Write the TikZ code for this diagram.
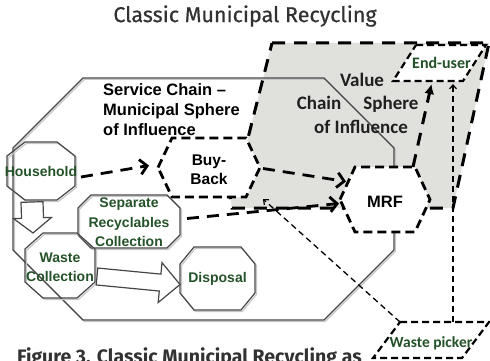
\documentclass[tikz,border=0pt]{standalone}
\usepackage{fontspec}
\usetikzlibrary{calc,arrows.meta}
\newfontfamily\arialf{Liberation Sans}
\newfontfamily\calf{Carlito}
\newfontfamily\dinf{Fira Sans}
\newfontfamily\dinm[FakeBold=0.6]{Fira Sans}
\definecolor{dgreen}{RGB}{36,82,40}
\definecolor{sphgray}{RGB}{224,224,221}
\definecolor{ink}{RGB}{50,50,50}
\definecolor{lineg}{RGB}{70,70,70}
\newcommand{\octo}[4][]{%
  \draw[#1] ($(#2.north west)+(#3,0)$) -- ($(#2.north east)+(-#3,0)$) -- ($(#2.north east)+(0,#4)$) -- ($(#2.south east)+(0,-#4)$) -- ($(#2.south east)+(-#3,0)$) -- ($(#2.south west)+(#3,0)$) -- ($(#2.south west)+(0,-#4)$) -- ($(#2.north west)+(0,#4)$) -- cycle;}
\newcommand{\hexa}[3][]{%
  \draw[#1] (#2.west) -- ($(#2.north west)+(#3,0)$) -- ($(#2.north east)+(-#3,0)$) -- (#2.east) -- ($(#2.south east)+(-#3,0)$) -- ($(#2.south west)+(#3,0)$) -- cycle;}
\newcommand{\paral}[3][]{%
  \draw[#1] ($(#2.north west)+(#3,0)$) -- (#2.north east) -- ($(#2.south east)+(-#3,0)$) -- (#2.south west) -- cycle;}
\newcommand{\blockarr}[5]{%
  \coordinate (ba-c) at ($(#2)!#5!(#1)$);
  \draw[blockst] ($(#1)!#3!90:(#2)$) -- ($(ba-c)!#3!90:(#2)$) -- ($(ba-c)!#4!90:(#2)$) -- (#2) -- ($(ba-c)!#4!-90:(#2)$) -- ($(ba-c)!#3!-90:(#2)$) -- ($(#1)!#3!-90:(#2)$) -- cycle;}
\tikzset{
  region/.style 2 args={minimum width=#1, minimum height=#2, inner sep=0pt, outer sep=0pt},
  svcline/.style={draw=lineg, line width=1.3pt},
  shadowline/.style={draw=gray!45, line width=1.2pt, transform canvas={xshift=1.4pt, yshift=-1.4pt}},
  octline/.style={draw=lineg, line width=1.2pt},
  blockst/.style={draw=lineg, line width=1.2pt, fill=white, line join=miter},
  sphdash/.style={draw=black, line width=3pt, dash pattern=on 13pt off 9pt},
  hexdash/.style={draw=black, line width=2.8pt, dash pattern=on 9pt off 5pt, fill=white},
  arrdash/.style={draw=black, line width=2.8pt, dash pattern=on 12pt off 8pt},
  smalldash/.style={draw=black, line width=2.2pt, dash pattern=on 7pt off 4pt, fill=white},
  thindash/.style={draw=black, line width=1.3pt, dash pattern=on 6pt off 4pt},
  chev/.style={-{Straight Barb[length=7pt,width=15pt,line width=2.8pt]}},
  gtext/.style={text=dgreen, font=\arialf\bfseries\fontsize{14}{19.5}\selectfont, align=center, inner sep=0pt},
  btext/.style={text=black, font=\arialf\bfseries\fontsize{15.5}{19}\selectfont, align=center, inner sep=0pt},
  ctext/.style={text=black!88, font=\calf\bfseries\fontsize{19}{22}\selectfont, inner sep=0pt},
  cgtext/.style={text=dgreen, font=\calf\bfseries\fontsize{16}{19}\selectfont, inner sep=0pt}
}
\begin{document}
\begin{tikzpicture}[x=1pt,y=-1pt]
\useasboundingbox (0,0) rectangle (490,361);
% regions
\node[region={381pt}{242pt}] (svc) at (203.5,199) {};
\node[region={68pt}{58pt}] (hh) at (41,171) {};
\node[region={102pt}{53pt}] (sr) at (129,221.5) {};
\node[region={70pt}{65pt}] (wc) at (60,265.5) {};
\node[region={75pt}{63pt}] (dp) at (217.5,278.5) {};
\node[region={102pt}{59pt}] (bb) at (209,167.5) {};
\node[region={90pt}{65pt}] (mrf) at (385,199.5) {};
\node[region={93pt}{36pt}] (eu) at (439.5,63) {};
\node[region={116pt}{36pt}] (wp) at (431,340) {};
% value chain sphere
\coordinate (s1) at (272,43);
\coordinate (s2) at (489,43);
\coordinate (s3) at (453,208);
\coordinate (s4) at (232,208);
\coordinate (s5) at (230,197);
\coordinate (s6) at (248,138);
\fill[sphgray] (s1) -- (s2) -- (s3) -- (s4) -- (s5) -- (s6) -- cycle;
% service chain octagon
\octo[shadowline]{svc}{70}{70}
\octo[svcline]{svc}{70}{70}
\draw[sphdash] (s1) -- (s2) -- (s3) -- (s4) -- (s5) -- (s6) -- cycle;
% hexagons
\hexa[hexdash]{bb}{14}
\hexa[hexdash]{mrf}{15}
% parallelograms
\paral[smalldash]{eu}{23}
\paral[smalldash]{wp}{27}
% solid octagons
\foreach \n/\cx/\cy in {hh/18/14, sr/13/13, wc/18/16, dp/14/17}{
  \octo[shadowline]{\n}{\cx}{\cy}
  \octo[octline]{\n}{\cx}{\cy}
}
% block arrows
\coordinate (b1s) at ($(hh.south)+(-9,2)$);
\coordinate (b1e) at ($(wc.north)+(-27,0)$);
\blockarr{b1s}{b1e}{11pt}{19pt}{15pt}
\coordinate (b2s) at ($(wc.east)+(2,11)$);
\coordinate (b2e) at ($(dp.west)+(0,6)$);
\blockarr{b2s}{b2e}{8.5pt}{20pt}{20pt}
% dashed arrows
\draw[arrdash, chev] ($(hh.east)+(6,6)$) -- ($(bb.west)+(-9,-2)$);
\draw[arrdash, chev] ($(bb.east)+(3,1)$) -- ($(mrf.west)+(6,-18)$);
\draw[arrdash, chev] ($(sr.east)+(7,-3)$) -- ($(mrf.west)+(-1,4)$);
\draw[sphdash, -{Latex[length=10pt,width=10pt]}] ($(mrf.north east)+(-17,0)$) -- ($(eu.south)+(-8,3)$);
\draw[thindash, -{Straight Barb[length=4pt,width=7pt,line width=1.2pt]}] ($(wp.north)+(22,0)$) -- ($(eu.south)+(13.5,3)$);
\draw[thindash, -{Straight Barb[length=4pt,width=7pt,line width=1.2pt]}] ($(wp.north west)+(27,0)$) -- ($(bb.south east)+(3,2)$);
% texts
\node[text=ink, font=\dinm\fontsize{21.5}{25}\selectfont, inner sep=0pt] (title) at (245,16) {Classic Municipal Recycling};
\node[anchor=north west, align=left, inner sep=0pt, font=\arialf\bfseries\fontsize{16.5}{20}\selectfont] (svct) at (103,83) {Service Chain –\\Municipal Sphere\\of Influence};
\node[ctext] (vt1) at (362,80) {Value};
\node[ctext] (vt2) at (319,103) {Chain};
\node[ctext] (vt3) at (391,104) {Sphere};
\node[ctext] (vt4) at (361,127) {of Influence};
\node[gtext] (hht) at (hh) {Household};
\node[gtext] (srt) at ($(sr)+(0,1)$) {Separate\\Recyclables\\Collection};
\node[gtext] (wct) at ($(wc)+(0,1.5)$) {Waste\\Collection};
\node[gtext] (dpt) at (dp) {Disposal};
\node[btext] (bbt) at ($(bb)+(0,2)$) {Buy-\\Back};
\node[btext, font=\arialf\bfseries\fontsize{16.5}{19}\selectfont] (mrft) at ($(mrf)+(0,2)$) {MRF};
\node[cgtext] (eut) at ($(eu)+(2,0)$) {End-user};
\node[cgtext, font=\calf\bfseries\fontsize{15.5}{19}\selectfont] (wpt) at ($(wp)+(0,3)$) {Waste picker};
\node[anchor=base west, inner sep=0pt, text=ink, font=\dinf\bfseries\fontsize{19.5}{22}\selectfont] (cap) at (17,363) {Figure 3. Classic Municipal Recycling as};
\end{tikzpicture}
\end{document}
